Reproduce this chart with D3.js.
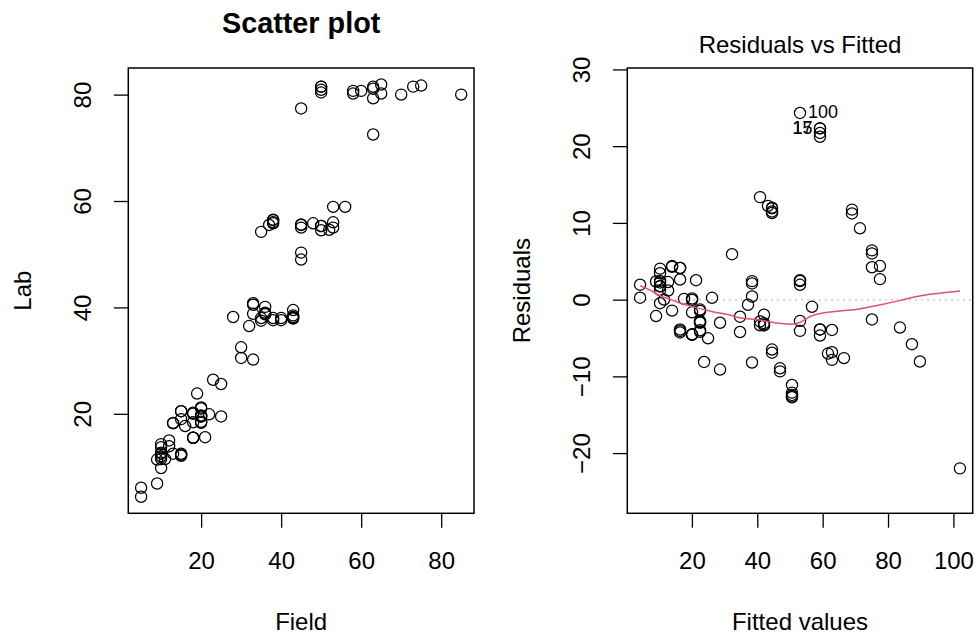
<!DOCTYPE html>
<html>
<head>
<meta charset="utf-8">
<script src="https://cdn.jsdelivr.net/npm/d3@7"></script>
<style>
  html, body { margin: 0; padding: 0; background: #fff; }
  svg { display: block; font-family: "Liberation Sans", Arial, Helvetica, sans-serif; }
</style>
</head>
<body>
<svg id="chart" width="977" height="635"></svg>
<script>
// ---------- data ----------
const field = [50,50,50,50,45,58,58,60,63,63,63,63,65,65,70,73,75,85,
  35,37,38,38,38,38,45,45,45,48,50,50,50,52,53,53,53,56,45,45,
  28,32,33,33,33,33,30,30,35,35,36,36,36,36,38,38,40,40,43,43,43,43,43,
  25,23,25,22,21,19,20,20,20,20,20,20,20,20,18,18,18,18,18,18,16,15,15,15,15,15,15,
  13,13,13,12,12,11,10,10,10,10,10,10,10,10,9,9,5,5];

const lab = [81.5,81.5,80.4,80.9,77.4,80.2,80.7,80.7,81.1,81.5,79.3,72.5,81.9,80.2,80.0,81.5,81.7,80.0,
  54.2,55.5,56.0,56.4,56.5,55.8,55.6,55.0,55.5,55.8,55.3,55.3,54.5,54.6,56.0,55.0,58.9,58.9,50.3,49.0,
  38.2,36.5,40.8,40.5,38.8,30.2,32.5,30.5,38.0,37.5,39.0,38.8,38.7,40.1,38.0,37.6,38.0,37.6,38.2,39.5,38.0,38.5,37.9,
  25.6,26.4,19.5,19.9,15.6,23.8,21.2,21.0,19.6,19.5,18.5,19.5,19.7,18.3,20.2,20.0,18.4,15.5,15.5,15.5,17.7,20.5,20.5,19.0,12.5,12.1,12.3,
  18.3,18.2,12.5,15.0,13.9,11.5,14.3,13.7,12.5,12.7,12.0,11.5,12.0,9.8,11.4,6.9,6.1,4.4];

const fittedVals = [59.18,59.18,59.18,59.18,53.07,68.97,68.97,71.41,75.08,75.08,75.08,75.08,77.53,77.53,83.64,87.31,89.76,101.99,
  40.84,43.28,44.51,44.51,44.51,44.51,53.07,53.07,53.07,56.74,59.18,59.18,59.18,61.63,62.85,62.85,62.85,66.52,53.07,53.07,
  32.28,37.17,38.39,38.39,38.39,38.39,34.72,34.72,40.84,40.84,42.06,42.06,42.06,42.06,44.51,44.51,46.95,46.95,50.62,50.62,50.62,50.62,50.62,
  28.61,26.16,28.61,24.94,23.72,21.27,22.49,22.49,22.49,22.49,22.49,22.49,22.49,22.49,20.05,20.05,20.05,20.05,20.05,20.05,17.60,16.38,16.38,16.38,16.38,16.38,16.38,
  13.93,13.93,13.93,12.71,12.71,11.49,10.26,10.26,10.26,10.26,10.26,10.26,10.26,10.26,9.04,9.04,4.15,4.15];

const residVals = [22.32,22.32,21.22,21.72,24.33,11.23,11.73,9.29,6.02,6.42,4.22,-2.58,4.37,2.67,-3.64,-5.81,-8.06,-21.99,
  13.36,12.22,11.49,11.89,11.99,11.29,2.53,1.93,2.43,-0.94,-3.88,-3.88,-4.68,-7.03,-6.85,-7.85,-3.95,-7.62,-2.77,-4.07,
  5.92,-0.67,2.41,2.11,0.41,-8.19,-2.22,-4.22,-2.84,-3.34,-3.06,-3.26,-3.36,-1.96,-6.51,-6.91,-8.95,-9.35,-12.42,-11.12,-12.62,-12.12,-12.72,
  -3.01,0.24,-9.11,-5.04,-8.12,2.53,-1.29,-1.49,-2.89,-2.99,-3.99,-2.99,-2.79,-4.19,0.15,-0.05,-1.65,-4.55,-4.55,-4.55,0.10,4.12,4.12,2.62,-3.88,-4.28,-4.08,
  4.37,4.27,-1.43,2.29,1.19,0.01,4.04,3.44,2.24,2.44,1.74,1.24,1.74,-0.46,2.36,-2.14,1.95,0.25];

// smoother (red line)
const smoothX = [4.2,7.1,10.1,16.2,21.3,26.4,31.5,34.6,39.7,45.8,49.9,52.4,54.4,56.5,60.0,65.1,71.3,77.4,83.5,89.6,95.7,102.0];
const smoothY = [1.81,1.27,0.55,-0.40,-1.04,-1.57,-2.0,-2.36,-2.58,-3.04,-3.21,-3.08,-2.65,-2.13,-1.73,-1.47,-1.21,-0.69,-0.13,0.48,0.83,1.13];

// labelled points
const idLabels = ["15","17","100"];
const idIndex  = [0, 1, 4];
const idSide   = ["left","left","right"];

// ticks
const leftXTicks = [20,40,60,80];
const leftYTicks = [20,40,60,80];
const rightXTicks = [20,40,60,80,100];
const rightYTicks = [-20,-10,0,10,20,30];

// ---------- layout ----------
const svg = d3.select("#chart");
svg.append("rect").attr("width",977).attr("height",635).attr("fill","#fff");

const plotTop = 68, plotBottom = 513.3;
const PL = {x0: 128.3, x1: 474};
const PR = {x0: 627.3, x1: 972.7};
const TICK = 14.4;
const FS = 24;

function ext(lo, hi, f) { const d = hi - lo; return [lo - f*d, hi + f*d]; }

function drawAxes(g, xs, ys, xt, yt, x0, fmtY) {
  const ax = g.append("g").attr("transform", `translate(0,${plotBottom})`)
    .call(d3.axisBottom(xs).tickValues(xt).tickSize(TICK).tickSizeOuter(0).tickFormat(d3.format("d")));
  ax.select(".domain").remove();
  ax.selectAll(".tick line").attr("stroke","#000").attr("stroke-width",1.3);
  ax.selectAll(".tick text").attr("y", 56.2).attr("dy", 0).attr("fill","#000")
    .attr("font-size", FS).attr("font-family", "Liberation Sans, Arial, sans-serif");

  const ay = g.append("g").attr("transform", `translate(${x0},0)`)
    .call(d3.axisLeft(ys).tickValues(yt).tickSize(TICK).tickSizeOuter(0).tickFormat(fmtY));
  ay.select(".domain").remove();
  ay.selectAll(".tick line").attr("stroke","#000").attr("stroke-width",1.3);
  ay.selectAll(".tick text").attr("x", 0).attr("dy", 0).attr("y", 0)
    .attr("text-anchor","middle").attr("transform","translate(-37,0) rotate(-90)")
    .attr("fill","#000").attr("font-size", FS).attr("font-family", "Liberation Sans, Arial, sans-serif");
}

// ---------- left panel ----------
const lx = d3.scaleLinear().domain(ext(...d3.extent(field), 0.04)).range([PL.x0, PL.x1]);
const ly = d3.scaleLinear().domain(ext(...d3.extent(lab), 0.04)).range([plotBottom, plotTop]);

const gl = svg.append("g");
drawAxes(gl, lx, ly, leftXTicks, leftYTicks, PL.x0, d3.format("d"));

gl.append("g").selectAll("circle").data(field).join("circle")
  .attr("cx", (d) => lx(d))
  .attr("cy", (d, i) => ly(lab[i]))
  .attr("r", 5.6).attr("fill","none").attr("stroke","#000").attr("stroke-width",1.25);

gl.append("rect").attr("x", PL.x0).attr("y", plotTop).attr("width", PL.x1 - PL.x0).attr("height", plotBottom - plotTop)
  .attr("fill","none").attr("stroke","#000").attr("stroke-width",1.5);

gl.append("text").attr("x", (PL.x0 + PL.x1)/2).attr("y", 33).attr("text-anchor","middle")
  .attr("font-size", 28.8).attr("font-weight","bold").text("Scatter plot");
gl.append("text").attr("x", (PL.x0 + PL.x1)/2).attr("y", 630).attr("text-anchor","middle")
  .attr("font-size", FS).text("Field");
gl.append("text").attr("transform", `translate(${PL.x0 - 97.3},${(plotTop+plotBottom)/2}) rotate(-90)`)
  .attr("text-anchor","middle").attr("font-size", FS).text("Lab");

// ---------- right panel ----------
const rx = d3.scaleLinear().domain(ext(...d3.extent(fittedVals), 0.04)).range([PR.x0, PR.x1]);
const ry0 = ext(...d3.extent(residVals), 0.08);
const ry = d3.scaleLinear().domain(ext(ry0[0], ry0[1], 0.04)).range([plotBottom, plotTop]);

const gr = svg.append("g");
const minusFmt = (d) => (d < 0 ? "\u2212" + Math.abs(d) : String(d));
drawAxes(gr, rx, ry, rightXTicks, rightYTicks, PR.x0, minusFmt);

// zero reference line
gr.append("line").attr("x1", PR.x0).attr("x2", PR.x1).attr("y1", ry(0)).attr("y2", ry(0))
  .attr("stroke","#bebebe").attr("stroke-width",1.5).attr("stroke-dasharray","1.5,4.5");

gr.append("g").selectAll("circle").data(fittedVals).join("circle")
  .attr("cx", (d) => rx(d))
  .attr("cy", (d, i) => ry(residVals[i]))
  .attr("r", 5.6).attr("fill","none").attr("stroke","#000").attr("stroke-width",1.25);

const line = d3.line().x((d) => rx(d[0])).y((d) => ry(d[1])).curve(d3.curveCatmullRom.alpha(0.5));
gr.append("path").datum(smoothX.map((x, i) => [x, smoothY[i]]))
  .attr("d", line).attr("fill","none").attr("stroke","#DF536B").attr("stroke-width",1.5);

gr.append("g").selectAll("text").data(idLabels).join("text")
  .attr("x", (d, k) => rx(fittedVals[idIndex[k]]) + (idSide[k] === "right" ? 8 : -7.5))
  .attr("y", (d, k) => ry(residVals[idIndex[k]]) + 5.5)
  .attr("text-anchor", (d, k) => idSide[k] === "right" ? "start" : "end")
  .attr("font-size", 18).attr("fill","#000")
  .text((d) => d);

gr.append("rect").attr("x", PR.x0).attr("y", plotTop).attr("width", PR.x1 - PR.x0).attr("height", plotBottom - plotTop)
  .attr("fill","none").attr("stroke","#000").attr("stroke-width",1.5);

gr.append("text").attr("x", (PR.x0 + PR.x1)/2).attr("y", 53.3).attr("text-anchor","middle")
  .attr("font-size", FS).text("Residuals vs Fitted");
gr.append("text").attr("x", (PR.x0 + PR.x1)/2).attr("y", 630).attr("text-anchor","middle")
  .attr("font-size", FS).text("Fitted values");
gr.append("text").attr("transform", `translate(${PR.x0 - 97.3},${(plotTop+plotBottom)/2}) rotate(-90)`)
  .attr("text-anchor","middle").attr("font-size", FS).text("Residuals");
</script>
</body>
</html>
